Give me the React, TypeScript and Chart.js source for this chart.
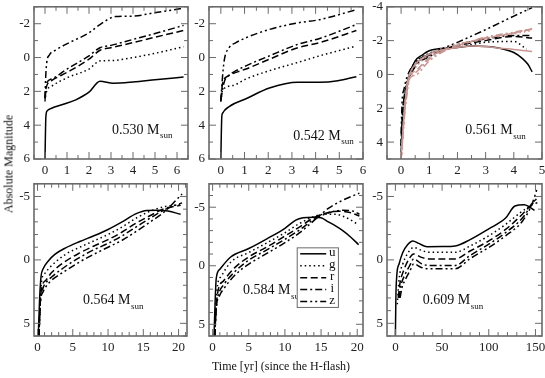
import React, { useEffect, useRef } from "react";
import { Chart, registerables } from "chart.js";
Chart.register(...registerables);

type Pt = [number, number];

const BANDS = ["u", "g", "r", "i", "z"];

// ---- 0.530 Msun ----
const m530_u: Pt[] = [[0,6],[0.02,4.5],[0.04,3.5],[0.1,3.15],[0.3,3.0],[0.8,2.78],[1.4,2.5],[2.0,2.05],[2.5,1.4],[3.1,1.52],[4,1.45],[5,1.32],[6.3,1.15]];
const m530_g: Pt[] = [[0,2.6],[0.05,2.1],[0.3,1.7],[1,1.2],[2,0.68],[2.5,0.2],[3,0.18],[4,0.0],[5,-0.25],[6.3,-0.64]];
const m530_r: Pt[] = [[0,2.5],[0.05,1.8],[0.3,1.36],[1,0.88],[2,0.1],[2.5,-0.43],[3,-0.58],[4,-0.88],[5,-1.2],[6.3,-1.6]];
const m530_i: Pt[] = [[0,2.4],[0.05,1.6],[0.3,1.27],[1,0.68],[2,-0.1],[2.5,-0.58],[3,-0.72],[4,-1.07],[5,-1.42],[6.3,-1.9]];
const m530_z: Pt[] = [[0,2.4],[0.03,1.2],[0.08,0.3],[0.2,-0.15],[0.5,-0.45],[1.1,-0.88],[2.0,-1.46],[2.5,-1.95],[3.2,-2.42],[4.0,-2.45],[4.9,-2.63],[6.3,-2.92]];

// ---- 0.542 Msun ----
const m542_u: Pt[] = [[0,6],[0.02,4.5],[0.04,3.5],[0.07,3.3],[0.35,2.9],[1.06,2.44],[2.05,1.8],[3.25,1.46],[4.17,1.46],[4.94,1.37],[5.72,1.13]];
const m542_g: Pt[] = [[0,2.6],[0.07,1.95],[0.5,1.66],[1.06,1.27],[2.05,0.78],[3.25,0.29],[4.17,-0.1],[5.72,-0.68]];
const m542_r: Pt[] = [[0,2.5],[0.07,1.56],[0.3,1.1],[0.64,0.88],[1.06,0.68],[2.05,0.1],[3.25,-0.58],[4.17,-0.88],[5.72,-1.6]];
const m542_i: Pt[] = [[0,2.5],[0.14,1.46],[0.4,1.0],[0.64,0.78],[1.06,0.49],[2.05,-0.1],[3.25,-0.78],[4.17,-1.13],[5.72,-1.95]];
const m542_z: Pt[] = [[0,2.6],[0.05,1.5],[0.14,0.2],[0.35,-0.58],[0.64,-0.88],[1.06,-1.17],[2.05,-1.66],[3.25,-2.05],[4.17,-2.24],[5.72,-2.83]];

// ---- 0.561 Msun (black) ----
const m561_u: Pt[] = [[0,4.6],[0.05,3],[0.15,1.5],[0.3,0],[0.5,-0.8],[0.75,-1.15],[1,-1.4],[1.5,-1.55],[2,-1.6],[2.5,-1.68],[3,-1.65],[3.5,-1.55],[4,-1.3],[4.3,-0.95],[4.5,-0.6],[4.65,-0.15]];
const m561_g: Pt[] = [[0,4.2],[0.05,2.5],[0.2,0.5],[0.5,-0.65],[1,-1.25],[1.5,-1.45],[2,-1.6],[3,-1.9],[4,-1.95],[4.45,-1.5]];
const m561_r: Pt[] = [[0,4.2],[0.05,2.4],[0.2,0.6],[0.5,-0.55],[1,-1.15],[1.5,-1.45],[2,-1.7],[3,-2.0],[4,-2.25],[4.65,-2.15]];
const m561_i: Pt[] = [[0,4.2],[0.05,2.3],[0.2,0.7],[0.5,-0.45],[1,-1.05],[1.5,-1.45],[2,-1.75],[3,-2.1],[4,-2.3],[4.65,-2.3]];
const m561_z: Pt[] = [[0,3.5],[0.04,1.5],[0.1,0.9],[0.2,0.2],[0.5,-0.7],[1,-1.2],[1.5,-1.55],[2,-1.9],[3,-2.65],[4,-3.45],[4.65,-3.95]];
// ---- 0.561 Msun (second model, pink) ----
const m561b_u: Pt[] = [[0,5],[0.1,2.5],[0.2,0.8],[0.3,0],[0.5,-0.6],[1,-1.2],[1.5,-1.45],[2,-1.6],[2.5,-1.68],[3,-1.65],[3.5,-1.55],[4,-1.48],[4.65,-1.35]];
const m561b_g: Pt[] = [[0,5],[0.12,2],[0.25,0.2],[0.5,-0.4],[1,-1.2],[1.5,-1.55],[2,-1.8],[3,-2.1],[4,-2.4],[4.65,-2.6]];
const m561b_r: Pt[] = [[0,5],[0.13,2],[0.27,0.2],[0.5,-0.2],[1,-1.0],[1.5,-1.45],[2,-1.75],[3,-2.15],[4,-2.45],[4.65,-2.68]];
const m561b_i: Pt[] = [[0,5],[0.14,2],[0.3,0.2],[0.5,-0.1],[1,-0.9],[1.5,-1.4],[2,-1.7],[3,-2.15],[4,-2.45],[4.65,-2.7]];
const m561b_z: Pt[] = [[0,5],[0.15,2],[0.32,0.2],[0.5,0.05],[1,-0.8],[1.5,-1.35],[2,-1.7],[3,-2.2],[4,-2.5],[4.65,-2.7]];

// ---- 0.564 Msun ----
const m564_u: Pt[] = [[0.1,6],[0.3,3],[0.5,1.3],[0.8,0.7],[1.5,0.1],[2.5,-0.45],[4,-0.95],[6,-1.45],[8,-1.9],[10,-2.4],[12,-3.0],[14,-3.65],[15.5,-3.9],[17,-3.92],[18.5,-3.85],[20.3,-3.6]];
const m564_g: Pt[] = [[0.2,6],[0.4,3],[0.6,1.6],[1,1.1],[2,0.45],[4,-0.45],[6,-1.0],[8,-1.5],[10,-2.0],[12,-2.6],[14,-3.3],[16,-3.85],[18,-4.2],[20.3,-4.35]];
const m564_r: Pt[] = [[0.2,6],[0.4,3.2],[0.7,2.0],[1.2,1.6],[2,1.0],[4,0.1],[6,-0.55],[8,-1.1],[10,-1.6],[12,-2.2],[14,-2.9],[16,-3.5],[18,-4.05],[20.3,-4.3]];
const m564_i: Pt[] = [[0.2,6],[0.4,3.3],[0.8,2.2],[1.2,1.8],[2,1.35],[4,0.5],[6,-0.2],[8,-0.8],[10,-1.3],[12,-1.9],[14,-2.6],[16,-3.3],[18,-3.95],[20.5,-4.5]];
const m564_z: Pt[] = [[0.2,6],[0.4,3.4],[0.8,2.5],[1.2,2.1],[2,1.6],[4,0.85],[6,0.15],[8,-0.45],[10,-1.0],[12,-1.55],[14,-2.25],[16,-3.0],[18,-3.8],[20.5,-5.2]];

// ---- 0.584 Msun ----
const m584_u: Pt[] = [[0.2,6],[0.35,3],[0.5,1.1],[1,0.3],[2.5,-0.75],[5,-1.47],[7.5,-2.3],[10,-3.2],[11.5,-3.9],[12.5,-4.1],[14,-4.15],[15,-4.1],[16,-3.75],[17,-3.4],[18,-3.0],[19,-2.5],[20.2,-1.8]];
const m584_g: Pt[] = [[0.3,6],[0.45,3.5],[0.7,1.6],[1.2,0.9],[2.5,-0.3],[5,-1.13],[7.5,-1.95],[10,-2.82],[12,-3.6],[14,-4.2],[15.5,-4.4],[17,-4.4],[18.5,-4.1],[20.2,-3.5]];
const m584_r: Pt[] = [[0.3,6],[0.5,3.5],[0.8,2.0],[1.5,1.3],[3,0.2],[5,-0.76],[7.5,-1.6],[10,-2.54],[12,-3.3],[14,-4.1],[16,-4.55],[17.5,-4.66],[19,-4.55],[20.3,-4.25]];
const m584_i: Pt[] = [[0.3,6],[0.5,3.6],[0.9,2.3],[1.5,1.65],[3,0.55],[5,-0.48],[7.5,-1.35],[10,-2.26],[12,-3.05],[14,-3.95],[16,-4.5],[18,-4.75],[19.5,-4.65],[20.3,-4.4]];
const m584_z: Pt[] = [[0.3,6],[0.5,3.7],[1.0,2.5],[1.5,2.0],[3,0.85],[5,-0.14],[7.5,-1.05],[10,-1.98],[12,-2.8],[14,-3.85],[16,-4.9],[18,-5.6],[20.3,-6.2]];

// ---- 0.609 Msun ----
const m609_u: Pt[] = [[0,6],[0.5,3],[1.5,1.2],[4,0.3],[8,-0.6],[13,-1.2],[18.6,-1.5],[25,-1.3],[34,-1.04],[50,-1.05],[64,-1.1],[80,-1.6],[100,-2.45],[118,-3.3],[128,-4.25],[138,-4.35],[143,-4.2],[149,-3.9]];
const m609_g: Pt[] = [[2,3.5],[4,1.5],[8,0.3],[13,-0.5],[19.6,-0.98],[28,-0.75],[35.7,-0.6],[64,-0.6],[80,-1.1],[100,-1.9],[118,-2.8],[136,-3.85],[143,-4.2],[150,-4.75]];
const m609_r: Pt[] = [[3,3],[5,1.8],[9,0.8],[14,0.0],[19.6,-0.47],[28,-0.2],[35.7,-0.08],[64,-0.08],[80,-0.7],[100,-1.5],[118,-2.4],[136,-3.6],[146,-4.35],[152,-4.5]];
const m609_i: Pt[] = [[4,3],[6,2],[10,1.2],[15,0.5],[19.6,-0.08],[28,0.3],[35.7,0.44],[64,0.44],[80,-0.35],[100,-1.24],[118,-2.15],[136,-3.3],[146,-4.35],[152,-4.9]];
const m609_z: Pt[] = [[5,3],[7,2.2],[11,1.5],[16,0.8],[19.6,0.31],[28,0.6],[35.7,0.7],[64,0.7],[80,-0.1],[100,-0.98],[118,-1.9],[136,-3.05],[146,-4.35],[152,-5.65]];

// ---- tick labels ----
const xTicksTop1 = [0, 1, 2, 3, 4, 5, 6];
const xTicksTop3 = [0, 1, 2, 3, 4, 5];
const yTicksTop12 = [-2, 0, 2, 4, 6];
const yTicksTop3 = [-4, -2, 0, 2, 4];
const xTicksBot12 = [0, 5, 10, 15, 20];
const xTicksBot3 = [0, 50, 100, 150];
const yTicksBot = [-5, 0, 5];

const FONT = "'Liberation Serif', 'Times New Roman', serif";
const FRAME = "#6a6a6a";
const PINK = "rgb(200,150,146)";
const DASH: Record<string, number[]> = { u: [], g: [1.5, 3], r: [7, 3.5], i: [7, 3, 2, 3], z: [7, 3, 2, 3, 2, 3] };

type PanelDef = {
  mass: string;
  series: Pt[][];
  extra?: Pt[][];
  x: [number, number];
  y: [number, number];
  xTicks: number[];
  yTicks: number[];
  xMinor: number;
  yMinor: number;
  label: Pt;
  legend?: [number, number, number, number];
  rect: [number, number, number, number];
};

const PANELS: PanelDef[] = [
  { mass: "0.530", series: [m530_u, m530_g, m530_r, m530_i, m530_z], x: [-0.5, 6.5], y: [-3, 6], xTicks: xTicksTop1, yTicks: yTicksTop12, xMinor: 0.5, yMinor: 1, label: [3.05, 4.29], rect: [34, 5, 188, 159] },
  { mass: "0.542", series: [m542_u, m542_g, m542_r, m542_i, m542_z], x: [-0.5, 6], y: [-3, 6], xTicks: xTicksTop1, yTicks: yTicksTop12, xMinor: 0.5, yMinor: 1, label: [3.06, 4.64], rect: [209, 5, 363, 159] },
  { mass: "0.561", series: [m561_u, m561_g, m561_r, m561_i, m561_z], extra: [m561b_u, m561b_g, m561b_r, m561b_i, m561b_z], x: [-0.5, 5], y: [-4, 5], xTicks: xTicksTop3, yTicks: yTicksTop3, xMinor: 0.5, yMinor: 1, label: [2.28, 3.31], rect: [387, 5, 542, 159] },
  { mass: "0.564", series: [m564_u, m564_g, m564_r, m564_i, m564_z], x: [-0.5, 21.2], y: [-6, 6], xTicks: xTicksBot12, yTicks: yTicksBot, xMinor: 1, yMinor: 1, label: [6.45, 3.19], rect: [34, 182, 187, 336] },
  { mass: "0.584", series: [m584_u, m584_g, m584_r, m584_i, m584_z], x: [-0.5, 20.8], y: [-7, 6], xTicks: xTicksBot12, yTicks: yTicksBot, xMinor: 1, yMinor: 1, label: [4.2, 2.1], legend: [11.7, -1.53, 17.4, 3.56], rect: [209, 182, 363, 336] },
  { mass: "0.609", series: [m609_u, m609_g, m609_r, m609_i, m609_z], x: [-9, 157], y: [-6, 6], xTicks: xTicksBot3, yTicks: yTicksBot, xMinor: 10, yMinor: 1, label: [29.4, 3.19], rect: [387, 182, 542, 336] },
];

const AX_W = 34, AX_H = 24, PAD_T = 10, PAD_R = 10;

function Panel({ p }: { p: PanelDef }) {
  const ref = useRef<HTMLCanvasElement>(null);
  const [l, t, r, b] = p.rect;
  const w = r - l + AX_W + PAD_R;
  const h = b - t + PAD_T + AX_H;

  useEffect(() => {
    const canvas = ref.current!;
    const mk = (s: Pt[], i: number, color: string) => ({
      data: s.map(([x, y]) => ({ x, y })),
      borderColor: color,
      borderWidth: 1.5,
      borderDash: DASH[BANDS[i]],
      pointRadius: 0,
      fill: false,
      cubicInterpolationMode: "monotone" as const,
    });
    const datasets: any[] = [];
    (p.extra || []).forEach((s, i) => datasets.push(mk(s, i, PINK)));
    p.series.forEach((s, i) => datasets.push(mk(s, i, "#000")));

    const framePlugin = {
      id: "frame" + p.mass,
      afterDatasetsDraw(chart: any) {
        const { ctx, chartArea: a, scales } = chart;
        const xs = scales.x, ys = scales.y;
        const seg = (x1: number, y1: number, x2: number, y2: number) => {
          ctx.beginPath(); ctx.moveTo(x1, y1); ctx.lineTo(x2, y2); ctx.stroke();
        };
        ctx.save();
        ctx.strokeStyle = FRAME;
        ctx.lineWidth = 1;
        ctx.setLineDash([]);
        const near = (v: number, arr: number[]) => arr.some((m) => Math.abs(m - v) < 1e-6);
        for (let v = Math.ceil(p.x[0] / p.xMinor) * p.xMinor; v <= p.x[1] + 1e-9; v += p.xMinor) {
          const px = xs.getPixelForValue(v);
          const len = near(v, p.xTicks) ? 7 : 4;
          seg(px, a.bottom, px, a.bottom - len);
          seg(px, a.top, px, a.top + len);
        }
        for (let v = Math.ceil(p.y[0] / p.yMinor) * p.yMinor; v <= p.y[1] + 1e-9; v += p.yMinor) {
          const py = ys.getPixelForValue(v);
          const len = near(v, p.yTicks) ? 7 : 4;
          seg(a.left, py, a.left + len, py);
          seg(a.right, py, a.right - len, py);
        }
        ctx.lineWidth = 1.6;
        ctx.strokeRect(a.left, a.top, a.right - a.left, a.bottom - a.top);

        // mass label
        const lx = xs.getPixelForValue(p.label[0]);
        const ly = ys.getPixelForValue(p.label[1]);
        ctx.fillStyle = "#111";
        ctx.textBaseline = "middle";
        ctx.textAlign = "left";
        ctx.font = `14px ${FONT}`;
        const main = `${p.mass} M`;
        ctx.fillText(main, lx, ly);
        const mw = ctx.measureText(main).width;
        ctx.font = `9px ${FONT}`;
        ctx.fillText("sun", lx + mw + 0.5, ly + 6);

        if (p.legend) {
          const bl = xs.getPixelForValue(p.legend[0]);
          const bt = ys.getPixelForValue(p.legend[1]);
          const br = xs.getPixelForValue(p.legend[2]);
          const bb = ys.getPixelForValue(p.legend[3]);
          ctx.fillStyle = "#fff";
          ctx.fillRect(bl, bt, br - bl, bb - bt);
          ctx.strokeStyle = FRAME;
          ctx.lineWidth = 1;
          ctx.strokeRect(bl, bt, br - bl, bb - bt);
          ctx.font = `13px ${FONT}`;
          ctx.fillStyle = "#111";
          BANDS.forEach((band, i) => {
            const yy = bt + ((bb - bt) * (i + 0.5)) / BANDS.length;
            ctx.strokeStyle = "#000";
            ctx.lineWidth = 1.5;
            ctx.setLineDash(DASH[band]);
            seg(bl + 3, yy, bl + 29, yy);
            ctx.setLineDash([]);
            ctx.textAlign = "center";
            ctx.fillText(band, bl + 35, yy - 1);
          });
        }
        ctx.restore();
      },
    };

    const chart = new Chart(canvas, {
      type: "line",
      data: { datasets },
      options: {
        animation: false,
        responsive: false,
        events: [],
        layout: { padding: { left: 0, top: PAD_T, right: PAD_R, bottom: 0 } },
        plugins: { legend: { display: false }, tooltip: { enabled: false } },
        scales: {
          x: {
            type: "linear",
            min: p.x[0],
            max: p.x[1],
            grid: { display: false, drawTicks: false },
            border: { display: false },
            ticks: { padding: 4, autoSkip: false, maxRotation: 0, color: "#222", font: { family: FONT, size: 13 }, callback: (v: any) => String(v) },
            afterBuildTicks: (s: any) => { s.ticks = p.xTicks.map((v) => ({ value: v })); },
            afterFit: (s: any) => { s.height = AX_H; },
          },
          y: {
            type: "linear",
            reverse: true,
            min: p.y[0],
            max: p.y[1],
            grid: { display: false, drawTicks: false },
            border: { display: false },
            ticks: { padding: 4, autoSkip: false, color: "#222", font: { family: FONT, size: 13 }, callback: (v: any) => String(v) },
            afterBuildTicks: (s: any) => { s.ticks = p.yTicks.map((v) => ({ value: v })); },
            afterFit: (s: any) => { s.width = AX_W; },
          },
        },
      } as any,
      plugins: [framePlugin],
    });
    return () => chart.destroy();
  }, []);

  return (
    <canvas
      ref={ref}
      width={w}
      height={h}
      style={{ position: "absolute", left: l - AX_W, top: t - PAD_T, width: w, height: h }}
    />
  );
}

export default function App() {
  return (
    <div style={{ position: "absolute", left: 0, top: 0, width: 545, height: 378, overflow: "hidden", background: "#fff", fontFamily: FONT }}>
      {PANELS.map((p) => (
        <Panel key={p.mass} p={p} />
      ))}
      <div
        style={{ position: "absolute", left: 9, top: 164, transform: "translate(-50%, -50%) rotate(-90deg)", whiteSpace: "nowrap", fontSize: 12, color: "#111" }}
      >
        Absolute Magnitude
      </div>
      <div
        style={{ position: "absolute", left: 281, top: 366, transform: "translate(-50%, -50%)", whiteSpace: "nowrap", fontSize: 12, color: "#111" }}
      >
        Time [yr] (since the H-flash)
      </div>
    </div>
  );
}
